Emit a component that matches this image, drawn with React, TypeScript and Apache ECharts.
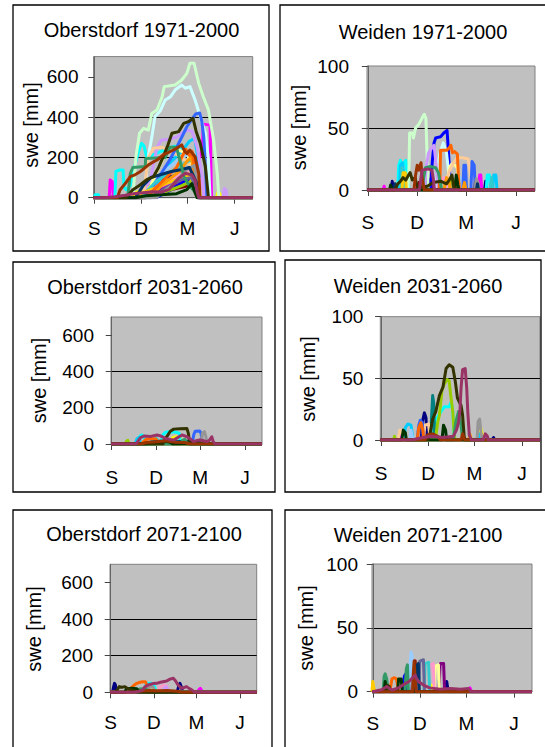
import React, { useEffect, useRef } from 'react';
import * as echarts from 'echarts';

// Excel-style series colours, index = year number within the 30-year period
const PALETTE = [
  '#000080', '#FF00FF', '#FFFF00', '#00FFFF', '#800080', '#800000', '#008080', '#0000FF',
  '#00CCFF', '#CCFFFF', '#CCFFCC', '#FFFF99', '#99CCFF', '#FF99CC', '#CC99FF', '#FFCC99',
  '#3366FF', '#33CCCC', '#99CC00', '#FFCC00', '#FF9900', '#FF6600', '#666699', '#969696',
  '#003366', '#339966', '#003300', '#333300', '#993300', '#993366',
];

// x = days after 1 September
const MONTH_TICKS = [0, 91, 181, 273];
const MONTH_LABELS = ['S', 'D', 'M', 'J'];
const OBERSTDORF_TICKS = [0, 200, 400, 600];
const WEIDEN_TICKS = [0, 50, 100];

type Line = [number, number[]]; // [colour index, flat list day,swe,day,swe,...]

const OBERSTDORF_1971_2000: Line[] = [
  [0, [80, 0, 100, 40, 120, 80, 140, 100, 160, 110, 180, 140, 195, 170, 202, 60, 206, 0]],
  [1, [29, 0, 31, 88, 35, 80, 37, 0, 100, 0, 130, 40, 160, 90, 190, 150, 205, 200, 210, 237, 212, 365, 225, 360, 228, 0]],
  [2, [60, 0, 75, 20, 95, 40, 115, 60, 135, 80, 155, 100, 175, 120, 192, 150, 200, 80, 210, 20, 215, 0, 238, 0, 240, 25, 244, 20, 246, 0]],
  [3, [0, 0, 2, 15, 8, 15, 10, 0, 40, 0, 42, 130, 50, 138, 56, 138, 58, 50, 62, 40, 70, 60, 78, 150, 86, 230, 92, 270, 97, 255, 102, 200, 112, 210, 125, 225, 140, 240, 155, 255, 170, 250, 185, 220, 195, 150, 200, 0]],
  [4, [90, 0, 120, 30, 150, 60, 180, 90, 198, 50, 202, 0]],
  [5, [100, 0, 120, 20, 150, 40, 185, 60, 200, 30, 203, 0]],
  [6, [100, 0, 130, 60, 160, 110, 185, 150, 198, 90, 203, 0]],
  [7, [120, 0, 150, 40, 175, 80, 188, 100, 198, 40, 202, 0]],
  [8, [110, 0, 130, 100, 150, 180, 170, 230, 185, 280, 195, 295, 205, 150, 210, 0]],
  [9, [99, 0, 102, 150, 105, 203, 112, 303, 118, 402, 128, 430, 138, 485, 148, 500, 157, 534, 170, 559, 177, 543, 186, 551, 196, 485, 206, 402, 216, 320, 222, 187, 225, 0]],
  [10, [75, 0, 81, 203, 88, 320, 96, 344, 105, 335, 112, 419, 122, 435, 132, 501, 136, 551, 157, 559, 170, 584, 180, 617, 186, 667, 194, 667, 203, 568, 212, 501, 222, 435, 232, 286, 239, 121, 242, 10, 244, 0]],
  [11, [100, 0, 120, 120, 140, 230, 160, 240, 180, 220, 200, 100, 210, 0]],
  [12, [100, 0, 130, 120, 160, 180, 185, 220, 200, 100, 205, 0]],
  [13, [90, 0, 110, 40, 140, 80, 170, 120, 195, 150, 210, 60, 214, 0]],
  [14, [90, 0, 110, 100, 122, 250, 130, 285, 145, 290, 160, 300, 170, 320, 182, 335, 190, 330, 200, 250, 210, 100, 213, 0, 250, 0, 253, 45, 256, 40, 258, 0]],
  [15, [95, 0, 105, 200, 115, 245, 132, 250, 150, 230, 170, 200, 190, 150, 200, 80, 205, 0]],
  [16, [100, 0, 115, 60, 130, 120, 145, 180, 160, 250, 170, 300, 180, 352, 190, 390, 197, 415, 205, 420, 209, 380, 213, 300, 217, 100, 219, 0]],
  [17, [90, 0, 120, 80, 150, 130, 175, 170, 190, 190, 198, 100, 202, 0]],
  [18, [100, 0, 140, 30, 170, 60, 195, 90, 205, 0]],
  [19, [70, 0, 100, 30, 130, 60, 160, 90, 185, 110, 200, 40, 205, 0]],
  [20, [110, 0, 130, 60, 150, 100, 165, 130, 180, 180, 188, 200, 195, 120, 200, 0]],
  [21, [100, 0, 120, 50, 140, 100, 160, 150, 170, 200, 178, 240, 185, 210, 190, 230, 195, 150, 200, 50, 205, 0]],
  [22, [110, 0, 140, 50, 170, 90, 190, 100, 200, 0]],
  [23, [120, 0, 150, 60, 180, 140, 195, 160, 202, 0]],
  [24, [80, 0, 95, 60, 110, 100, 130, 115, 150, 130, 170, 140, 185, 150, 198, 80, 203, 0]],
  [25, [65, 0, 70, 120, 75, 150, 99, 155, 100, 195, 138, 200, 147, 250, 160, 250, 165, 200, 175, 100, 185, 60, 192, 40, 200, 20, 204, 0]],
  [26, [80, 0, 100, 10, 130, 15, 160, 20, 180, 40, 190, 70, 195, 30, 200, 0]],
  [27, [62, 0, 75, 40, 89, 63, 102, 90, 115, 104, 125, 150, 134, 203, 143, 260, 151, 320, 164, 328, 174, 369, 183, 377, 192, 394, 198, 330, 206, 270, 216, 154, 222, 0]],
  [28, [45, 0, 50, 38, 60, 70, 70, 104, 80, 115, 89, 129, 97, 145, 105, 162, 113, 175, 122, 187, 134, 212, 147, 228, 160, 245, 170, 262, 176, 230, 180, 220, 186, 236, 196, 203, 203, 121, 206, 0]],
  [29, [20, 0, 40, 5, 60, 12, 79, 21, 95, 25, 112, 30, 130, 28, 145, 40, 155, 70, 164, 96, 177, 121, 190, 113, 196, 88, 200, 30, 203, 0]],
];

const WEIDEN_1971_2000: Line[] = [
  [0, [43, 0, 45, 7, 47, 0, 108, 0, 110, 10, 112, 0, 215, 0, 217, 7, 219, 0]],
  [1, [28, 0, 30, 3, 32, 0, 204, 0, 206, 12, 208, 12, 210, 0]],
  [2, [62, 0, 64, 15, 68, 15, 70, 0, 175, 0, 177, 10, 180, 8, 182, 0]],
  [3, [55, 0, 57, 20, 60, 24, 63, 18, 66, 22, 70, 24, 73, 10, 76, 0, 218, 0, 220, 12, 224, 12, 226, 0]],
  [4, [110, 0, 114, 8, 118, 5, 120, 0]],
  [5, [90, 0, 94, 6, 98, 4, 100, 0]],
  [6, [150, 0, 153, 6, 156, 0]],
  [7, [115, 0, 119, 24, 122, 38, 125, 42, 134, 43, 140, 46, 146, 48, 148, 35, 150, 20, 152, 3, 154, 0]],
  [8, [58, 0, 60, 20, 64, 22, 67, 10, 69, 0, 230, 0, 232, 12, 236, 12, 238, 0]],
  [9, [126, 0, 129, 20, 133, 30, 139, 38, 145, 30, 150, 10, 152, 0]],
  [10, [74, 0, 76, 20, 77, 46, 82, 46, 84, 42, 88, 50, 94, 53, 100, 58, 104, 61, 107, 58, 109, 30, 111, 0]],
  [11, [145, 0, 150, 18, 155, 21, 160, 20, 165, 18, 168, 0]],
  [12, [160, 0, 165, 12, 170, 10, 174, 0]],
  [13, [130, 0, 135, 8, 140, 10, 145, 5, 148, 0]],
  [14, [104, 0, 108, 20, 112, 30, 118, 34, 122, 36, 126, 20, 130, 0]],
  [15, [140, 0, 150, 15, 158, 22, 165, 26, 175, 26, 185, 25, 190, 10, 193, 0]],
  [16, [175, 0, 177, 20, 180, 20, 182, 0, 190, 0, 192, 23, 196, 20, 198, 0]],
  [17, [60, 0, 63, 18, 66, 0, 225, 0, 228, 10, 230, 0]],
  [18, [150, 0, 154, 10, 158, 6, 160, 0]],
  [19, [63, 0, 65, 14, 69, 14, 71, 0, 160, 0, 163, 8, 166, 0]],
  [20, [140, 0, 145, 10, 150, 6, 153, 0, 175, 0, 178, 6, 181, 0]],
  [21, [131, 0, 133, 10, 134, 32, 145, 32, 150, 34, 153, 36, 156, 30, 160, 31, 165, 29, 167, 10, 169, 0]],
  [22, [195, 0, 198, 6, 201, 0]],
  [23, [198, 0, 200, 9, 203, 6, 205, 0]],
  [24, [48, 0, 50, 5, 53, 0, 200, 0, 202, 5, 204, 0]],
  [25, [100, 0, 103, 10, 106, 18, 115, 19, 125, 18, 130, 14, 134, 5, 136, 0]],
  [26, [40, 0, 42, 4, 45, 0, 160, 0, 163, 12, 166, 4, 168, 0]],
  [27, [50, 0, 55, 5, 60, 7, 65, 10, 70, 8, 75, 12, 78, 14, 82, 8, 87, 10, 90, 4, 95, 2, 110, 3, 120, 6, 135, 7, 145, 5, 150, 8, 155, 12, 158, 3, 165, 0]],
  [28, [85, 0, 88, 12, 91, 20, 94, 16, 98, 22, 100, 10, 104, 0]],
  [29, [95, 0, 98, 10, 100, 16, 110, 17, 118, 16, 121, 8, 123, 0]],
];

const OBERSTDORF_2031_2060: Line[] = [
  [0, [175, 0, 178, 15, 181, 22, 184, 10, 186, 0]],
  [2, [120, 0, 125, 35, 132, 40, 140, 38, 144, 0]],
  [3, [55, 0, 58, 45, 62, 50, 66, 40, 70, 0, 100, 0, 105, 50, 110, 65, 120, 68, 130, 66, 138, 60, 142, 0]],
  [8, [48, 0, 52, 30, 56, 35, 60, 0]],
  [16, [165, 0, 168, 50, 171, 70, 180, 72, 183, 60, 186, 0]],
  [17, [80, 0, 85, 25, 92, 30, 98, 0]],
  [18, [28, 0, 30, 15, 33, 20, 36, 0]],
  [19, [100, 0, 110, 20, 120, 25, 128, 0]],
  [21, [60, 0, 70, 25, 80, 30, 90, 28, 95, 10, 100, 0]],
  [23, [183, 0, 186, 60, 190, 68, 193, 40, 195, 0]],
  [24, [70, 0, 80, 10, 100, 15, 130, 12, 160, 15, 180, 8, 185, 0]],
  [25, [140, 0, 145, 20, 150, 25, 155, 0]],
  [26, [90, 0, 95, 12, 110, 15, 120, 10, 125, 0]],
  [27, [105, 0, 110, 30, 114, 45, 120, 70, 127, 82, 140, 84, 154, 86, 157, 60, 160, 0]],
  [28, [60, 0, 70, 8, 90, 12, 110, 18, 130, 10, 150, 8, 160, 0]],
  [29, [50, 0, 55, 20, 59, 35, 66, 44, 80, 42, 93, 50, 100, 45, 110, 31, 120, 25, 127, 22, 135, 35, 144, 50, 154, 40, 160, 30, 168, 13, 175, 20, 181, 22, 188, 18, 195, 13, 200, 20, 205, 40, 208, 13, 212, 0]],
];

const WEIDEN_2031_2060: Line[] = [
  [0, [78, 0, 80, 15, 84, 22, 87, 18, 89, 0, 215, 0, 218, 2, 220, 0]],
  [1, [35, 0, 37, 6, 39, 0]],
  [2, [190, 0, 193, 10, 196, 5, 198, 0]],
  [3, [100, 0, 104, 12, 107, 17, 116, 23, 123, 27, 132, 27, 136, 31, 139, 23, 142, 0]],
  [6, [96, 0, 98, 20, 100, 36, 102, 30, 104, 0]],
  [8, [44, 0, 47, 10, 52, 13, 58, 12, 62, 0, 190, 0, 192, 5, 194, 0]],
  [12, [56, 0, 58, 8, 62, 0]],
  [15, [33, 0, 36, 8, 40, 8, 42, 0, 82, 0, 85, 12, 92, 13, 95, 0]],
  [16, [70, 0, 73, 12, 76, 16, 80, 14, 82, 0]],
  [18, [24, 0, 26, 3, 28, 0, 105, 0, 110, 15, 113, 20, 118, 40, 122, 45, 128, 49, 132, 48, 135, 36, 139, 23, 142, 3, 144, 0]],
  [20, [170, 0, 172, 5, 175, 0]],
  [21, [70, 0, 73, 10, 77, 14, 81, 8, 83, 0]],
  [23, [186, 0, 188, 15, 191, 17, 194, 5, 196, 0]],
  [25, [140, 0, 145, 15, 150, 23, 155, 12, 158, 0]],
  [26, [40, 0, 43, 8, 47, 6, 49, 0, 118, 0, 121, 12, 125, 8, 127, 0]],
  [27, [90, 0, 94, 3, 100, 17, 106, 23, 113, 36, 120, 43, 126, 58, 132, 61, 139, 59, 144, 47, 148, 34, 155, 28, 158, 20, 161, 3, 163, 0]],
  [28, [85, 0, 90, 4, 100, 5, 110, 3, 115, 0, 155, 0, 158, 5, 162, 0]],
  [29, [60, 0, 80, 2, 100, 3, 120, 2, 140, 3, 146, 8, 150, 14, 153, 25, 155, 42, 158, 57, 163, 58, 166, 42, 168, 23, 171, 4, 175, 0, 198, 0, 202, 5, 206, 3, 208, 0]],
];

const OBERSTDORF_2071_2100: Line[] = [
  [0, [4, 0, 6, 30, 8, 49, 10, 40, 12, 0, 140, 0, 143, 30, 146, 49, 149, 30, 152, 0]],
  [1, [184, 0, 186, 15, 189, 22, 192, 10, 194, 0]],
  [2, [85, 0, 90, 20, 95, 15, 100, 0]],
  [3, [70, 0, 74, 40, 78, 50, 85, 50, 90, 45, 94, 20, 97, 0]],
  [13, [100, 0, 104, 30, 112, 38, 118, 35, 122, 0]],
  [14, [110, 0, 114, 25, 118, 30, 122, 0]],
  [21, [35, 0, 40, 15, 44, 26, 50, 40, 55, 49, 62, 55, 68, 58, 73, 58, 77, 35, 80, 20, 84, 0]],
  [23, [76, 0, 79, 25, 85, 30, 90, 28, 93, 0]],
  [25, [58, 0, 61, 18, 68, 20, 75, 18, 78, 0]],
  [26, [30, 0, 33, 20, 45, 22, 55, 20, 61, 0]],
  [27, [10, 0, 14, 15, 18, 31, 24, 28, 30, 31, 36, 20, 40, 15, 48, 10, 55, 0]],
  [28, [50, 0, 60, 6, 80, 10, 100, 8, 120, 10, 140, 6, 150, 0]],
  [29, [50, 0, 60, 5, 68, 13, 72, 30, 79, 40, 90, 48, 97, 49, 105, 55, 118, 62, 125, 72, 132, 77, 137, 62, 142, 40, 150, 22, 160, 31, 166, 20, 171, 13, 175, 5, 178, 0]],
];

const WEIDEN_2071_2100: Line[] = [
  [0, [140, 0, 143, 8, 146, 0]],
  [1, [185, 0, 188, 3, 191, 0]],
  [2, [110, 0, 114, 5, 118, 0]],
  [4, [128, 0, 130, 20, 131, 22, 137, 22, 139, 0]],
  [5, [72, 0, 74, 22, 76, 24, 82, 24, 84, 0]],
  [7, [58, 0, 61, 12, 64, 14, 66, 0]],
  [11, [119, 0, 121, 20, 127, 21, 129, 0]],
  [12, [70, 0, 72, 20, 74, 31, 76, 28, 78, 0]],
  [13, [109, 0, 111, 21, 117, 22, 119, 0]],
  [17, [99, 0, 101, 22, 108, 23, 110, 0]],
  [19, [0, 8, 2, 3, 4, 0]],
  [21, [33, 0, 37, 10, 42, 11, 46, 10, 50, 0]],
  [22, [89, 0, 91, 24, 98, 25, 100, 0]],
  [24, [82, 0, 85, 20, 88, 22, 90, 0]],
  [25, [20, 0, 22, 12, 24, 14, 27, 10, 30, 0, 62, 0, 65, 18, 67, 21, 69, 0]],
  [26, [22, 0, 24, 8, 26, 0, 48, 0, 50, 10, 55, 10, 57, 0]],
  [27, [25, 0, 28, 5, 32, 4, 35, 0]],
  [28, [77, 0, 78, 12, 80, 24, 82, 10, 84, 0]],
  [29, [0, 0, 10, 1, 17, 1.5, 27, 4, 37, 1.3, 50, 3, 63, 6.5, 70, 8, 76, 10.4, 82, 13, 85, 10, 89, 7.8, 98, 5.2, 110, 3, 130, 2, 150, 2.6, 170, 2, 185, 2.6, 190, 0]],
];

const X_MIN = -1.5;
const X_MAX = 308;
const FONT = 'Liberation Sans, Arial, sans-serif';

const PANELS = [
  { title: 'Oberstdorf 1971-2000', lines: OBERSTDORF_1971_2000, ticks: OBERSTDORF_TICKS,
    grid: { left: 93.5, top: 56.6, width: 159.2, height: 141.1 }, xm: 21, ym: 15,
    tp: [141.5, 30], yn: [31, 125], box: [13, 5, 256, 246] },
  { title: 'Weiden 1971-2000', lines: WEIDEN_1971_2000, ticks: WEIDEN_TICKS,
    grid: { left: 367, top: 66, width: 168, height: 124 }, xm: 23, ym: 18,
    tp: [423, 32], yn: [298.5, 127.5], box: [280, 5, 280, 246] },
  { title: 'Oberstdorf 2031-2060', lines: OBERSTDORF_2031_2060, ticks: OBERSTDORF_TICKS,
    grid: { left: 111, top: 317, width: 151, height: 127 }, xm: 24, ym: 17,
    tp: [145, 287], yn: [38.5, 380.5], box: [13, 262, 262, 230] },
  { title: 'Weiden 2031-2060', lines: WEIDEN_2031_2060, ticks: WEIDEN_TICKS,
    grid: { left: 380.3, top: 316.7, width: 159.7, height: 123.3 }, xm: 24, ym: 17,
    tp: [418, 286], yn: [307.5, 379], box: [285, 260, 256, 232] },
  { title: 'Oberstdorf 2071-2100', lines: OBERSTDORF_2071_2100, ticks: OBERSTDORF_TICKS,
    grid: { left: 110, top: 564.3, width: 146.7, height: 128 }, xm: 21, ym: 17,
    tp: [144, 534], yn: [34, 629], box: [13, 510, 259, 250] },
  { title: 'Weiden 2071-2100', lines: WEIDEN_2071_2100, ticks: WEIDEN_TICKS,
    grid: { left: 372, top: 564, width: 160, height: 127.7 }, xm: 22, ym: 14,
    tp: [418, 535], yn: [306, 628], box: [285, 510, 270, 250] },
];

function toPairs(flat: number[]): number[][] {
  const pts: number[][] = [];
  for (let i = 0; i + 1 < flat.length; i += 2) pts.push([flat[i], flat[i + 1]]);
  if (pts.length === 0 || pts[0][0] > X_MIN) pts.unshift([X_MIN, 0]);
  if (pts[pts.length - 1][0] < X_MAX) pts.push([X_MAX, 0]);
  return pts;
}

function buildOption() {
  const grid: any[] = [];
  const xAxis: any[] = [];
  const yAxis: any[] = [];
  const series: any[] = [];
  const graphic: any[] = [];

  PANELS.forEach((p, i) => {
    const ymax = p.ticks[p.ticks.length - 1] === 600 ? 700 : p.ticks[p.ticks.length - 1];
    const step = p.ticks[1] - p.ticks[0];
    grid.push({
      ...p.grid, show: true, backgroundColor: '#C0C0C0', borderColor: '#808080', borderWidth: 1,
      containLabel: false,
    });
    xAxis.push({
      type: 'value', gridIndex: i, min: X_MIN, max: X_MAX,
      axisLine: { show: true, onZero: true, lineStyle: { color: '#555', width: 1 } },
      axisTick: { show: true, customValues: MONTH_TICKS, length: 6, lineStyle: { color: '#444' } },
      axisLabel: {
        show: true, customValues: MONTH_TICKS, margin: p.xm, color: '#000', fontSize: 19, fontFamily: FONT,
        formatter: (v: number) => {
          const k = MONTH_TICKS.indexOf(v);
          return k >= 0 ? MONTH_LABELS[k] : '';
        },
      },
      splitLine: { show: false },
    });
    yAxis.push({
      type: 'value', gridIndex: i, min: 0, max: ymax, interval: step,
      axisLine: { show: true, lineStyle: { color: '#666', width: 1 } },
      axisTick: { show: true, customValues: p.ticks, length: 6, lineStyle: { color: '#444' } },
      axisLabel: {
        show: true, customValues: p.ticks, margin: p.ym, color: '#000', fontSize: 19, fontFamily: FONT,
        formatter: (v: number) => (p.ticks.indexOf(v) >= 0 ? String(v) : ''),
      },
      splitLine: { show: true, showMinLine: false, showMaxLine: false, lineStyle: { color: '#000', width: 1 } },
    });
    const sorted = [...p.lines].sort((a, b) => a[0] - b[0]);
    sorted.forEach(([c, flat]) => {
      series.push({
        type: 'line', xAxisIndex: i, yAxisIndex: i, data: toPairs(flat),
        showSymbol: false, symbol: 'none', silent: true, clip: true,
        lineStyle: { color: PALETTE[c], width: 3, join: 'round' },
      });
    });
    graphic.push({
      type: 'rect', shape: { x: p.box[0], y: p.box[1], width: p.box[2], height: p.box[3] },
      style: { fill: 'none', stroke: '#000', lineWidth: 1.3 }, z: 100,
    });
    graphic.push({
      type: 'text', x: p.tp[0], y: p.tp[1], z: 100,
      style: { text: p.title, font: `20px ${FONT}`, fill: '#000', align: 'center', verticalAlign: 'middle' },
    });
    graphic.push({
      type: 'text', x: p.yn[0], y: p.yn[1], rotation: Math.PI / 2, z: 100,
      style: { text: 'swe [mm]', font: `20px ${FONT}`, fill: '#000', align: 'center', verticalAlign: 'middle' },
    });
  });

  return { animation: false, backgroundColor: '#fff', grid, xAxis, yAxis, series, graphic };
}

export default function App() {
  const ref = useRef<HTMLDivElement>(null);
  useEffect(() => {
    if (!ref.current) return;
    const chart = echarts.init(ref.current, undefined, { renderer: 'svg' });
    chart.setOption(buildOption() as any);
    return () => chart.dispose();
  }, []);
  return (
    <div
      ref={ref}
      style={{ position: 'absolute', left: 0, top: 0, width: 545, height: 747, background: '#fff' }}
    />
  );
}
